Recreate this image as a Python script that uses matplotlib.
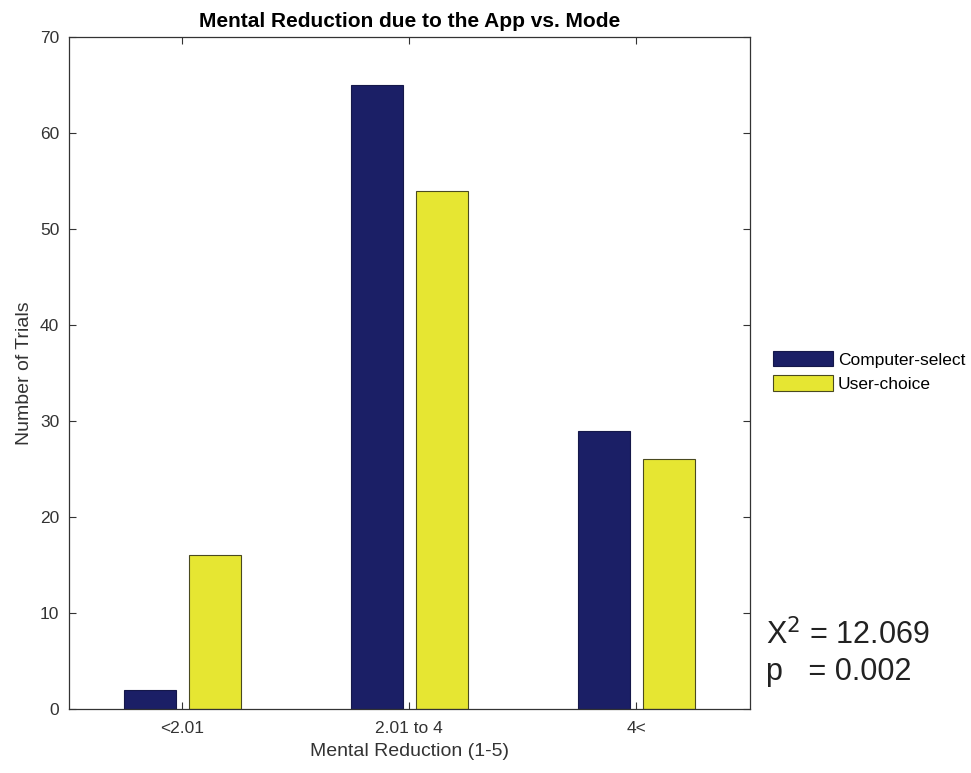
import matplotlib
matplotlib.use("Agg")
import matplotlib.pyplot as plt
import numpy as np

plt.rcParams['font.family'] = ['Liberation Sans', 'DejaVu Sans']

categories = ['<2.01', '2.01 to 4', '4<']
series_names = ['Computer-select', 'User-choice']
computer_select = [2, 65, 29]
user_choice = [16, 54, 26]
y_ticks = [0, 10, 20, 30, 40, 50, 60, 70]

fig = plt.figure(figsize=(9.71, 7.73), dpi=100)
ax = fig.add_axes([0.071, 0.083, 0.701, 0.869])

x = np.arange(1, len(categories) + 1)
w = 0.23
off = 0.143
ax.bar(x - off, computer_select, w, color='#1b1f66', edgecolor='#15184a',
       linewidth=0.8, label=series_names[0])
ax.bar(x + off, user_choice, w, color='#e6e632', edgecolor='#4a4a20',
       linewidth=0.8, label=series_names[1])

ax.set_xlim(0.5, 3.5)
ax.set_ylim(0, 70)
ax.set_yticks(y_ticks)
ax.set_xticks(x)
ax.set_xticklabels(categories)
ax.tick_params(direction='in', top=True, right=True, labelsize=12.5,
               colors='#333333', length=5)
ax.tick_params(axis='x', pad=9)
ax.tick_params(axis='y', pad=7)
for s in ax.spines.values():
    s.set_color('#333333')
    s.set_linewidth(0.9)

ax.set_title('Mental Reduction due to the App vs. Mode', fontsize=15,
             fontweight='bold', pad=7)
ax.set_xlabel('Mental Reduction (1-5)', fontsize=14, color='#333333', labelpad=5)
ax.set_ylabel('Number of Trials', fontsize=14, color='#333333', labelpad=5)

fig.legend(loc='upper left', bbox_to_anchor=(0.796, 0.546), frameon=False,
           fontsize=12.5, handlelength=3.45, handleheight=1.0, handletextpad=0.3,
           labelspacing=0.45, borderaxespad=0, borderpad=0)

fig.text(0.789, 0.167, r'X$^2$ = 12.069', fontsize=22, color='#222222')
fig.text(0.789, 0.120, 'p   = 0.002', fontsize=22, color='#222222')

fig.savefig('out.png', dpi=100)
